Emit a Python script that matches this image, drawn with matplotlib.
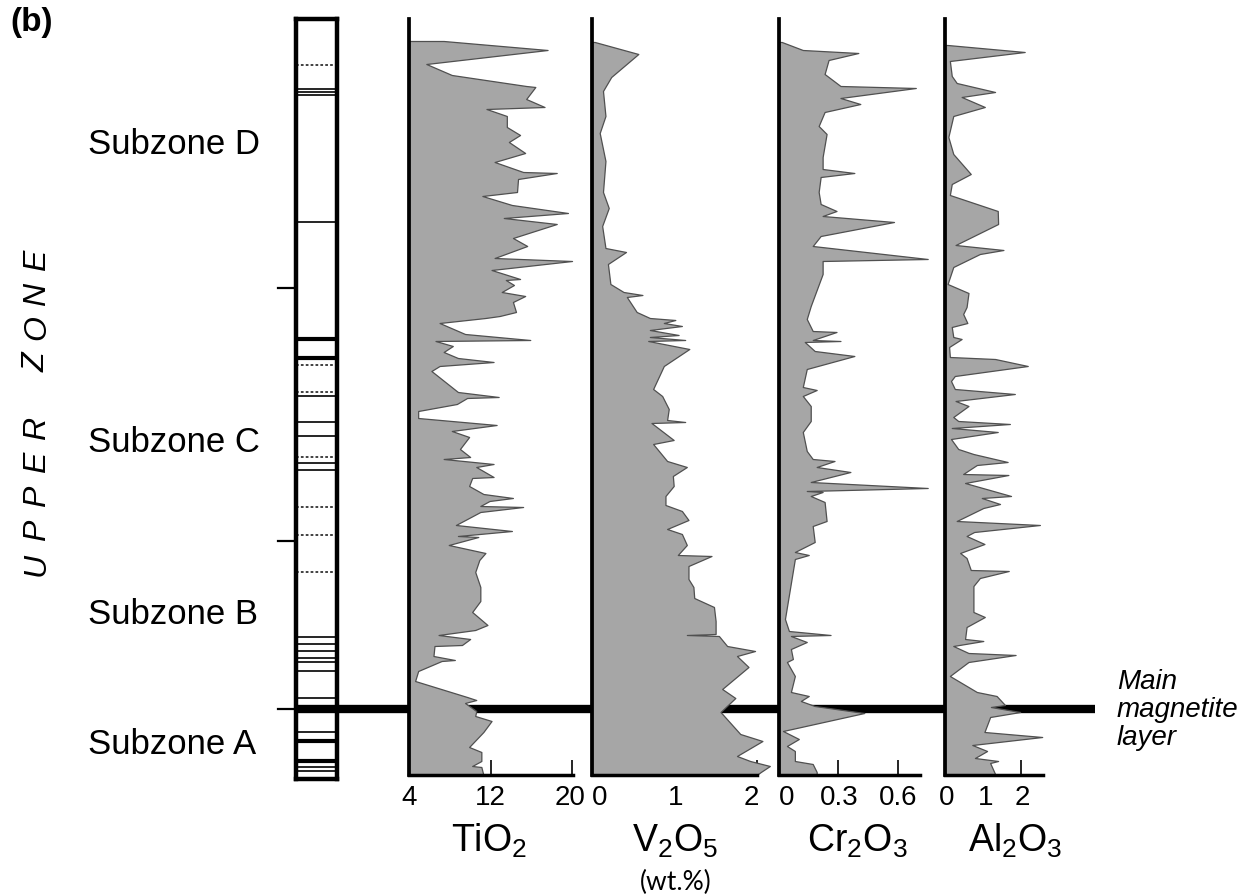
import matplotlib
matplotlib.use("Agg")
import matplotlib.pyplot as plt
import matplotlib.transforms as mtransforms
from matplotlib.lines import Line2D

plt.rcParams['font.family'] = ['Liberation Sans', 'DejaVu Sans']
plt.rcParams['mathtext.fontset'] = 'custom'
plt.rcParams['mathtext.rm'] = 'Liberation Sans'
plt.rcParams['mathtext.it'] = 'Liberation Sans:italic'

# ---------------- data (stratigraphic height in relative units, base = 0) ----------------
tio2_h = [73.4, 72.5, 71.1, 70.0, 68.9, 68.8, 67.6, 66.8, 66.6, 65.9, 64.8, 64.0, 63.3, 62.2,
          61.3, 60.3, 60.2, 59.6, 58.3, 57.9, 57.0, 56.2, 55.7, 55.1, 53.7, 52.9, 51.7, 51.4,
          50.5, 49.6, 49.5, 49.0, 48.3, 47.9, 47.3, 46.3, 45.9, 45.7, 45.2, 44.1, 43.5, 43.4,
          42.9, 42.3, 41.7, 41.3, 40.9, 40.4, 38.3, 37.8, 37.7, 37.1, 36.4, 35.7, 35.0, 34.4,
          33.8, 32.6, 31.8, 31.6, 31.1, 30.8, 29.8, 29.7, 28.9, 28.1, 27.7, 27.4, 26.9, 26.8,
          26.3, 25.0, 24.4, 23.9, 23.8, 23.0, 22.2, 21.5, 20.3, 18.8, 17.4, 16.3, 15.0, 14.5,
          14.0, 13.6, 13.0, 12.9, 11.9, 11.5, 11.4, 10.4, 9.4, 7.8, 7.5, 7.2, 6.4, 5.9, 5.4,
          4.3, 2.8, 2.3, 1.4, 0.9, 0.8, 0.0]
tio2_v = [7.4, 17.6, 5.7, 8.2, 15.5, 16.4, 15.5, 17.3, 11.6, 13.6, 13.6, 14.9, 13.8, 15.4,
          12.4, 15.2, 18.5, 14.7, 14.6, 11.2, 14.1, 19.6, 13.3, 18.5, 14.2, 15.6, 12.4, 20.0,
          12.1, 14.9, 13.5, 14.3, 13.1, 15.4, 14.2, 14.5, 12.9, 11.5, 7.0, 9.5, 15.9, 6.6,
          8.3, 7.4, 8.8, 12.3, 7.0, 6.2, 8.8, 12.8, 9.7, 8.7, 4.9, 4.9, 12.6, 8.2,
          9.9, 9.0, 10.0, 7.4, 12.3, 10.6, 12.3, 10.2, 9.9, 11.3, 14.2, 11.9, 11.0, 15.2,
          11.0, 8.6, 14.1, 8.8, 10.8, 7.9, 11.5, 10.9, 10.5, 11.0, 11.0, 10.2, 11.7, 10.5,
          6.9, 10.0, 9.2, 6.5, 6.4, 8.5, 7.2, 4.9, 4.6, 9.7, 10.6, 9.5, 10.6, 10.5, 12.1,
          11.3, 9.9, 11.1, 11.1, 10.2, 11.1, 11.3]

v2o5_h = [73.3, 72.1, 69.8, 68.4, 65.9, 64.2, 61.4, 58.3, 56.7, 54.9, 52.7, 52.3, 51.1, 49.1,
          48.3, 48.0, 47.8, 46.3, 45.7, 45.5, 45.2, 44.9, 44.5, 44.0, 43.8, 43.5, 43.4, 42.6,
          40.9, 38.6, 37.9, 36.6, 35.5, 35.3, 35.2, 33.5, 33.1, 31.4, 30.8, 29.9, 28.9, 27.9,
          27.0, 26.4, 25.5, 24.6, 24.1, 23.0, 22.0, 21.9, 20.9, 19.6, 18.8, 17.7, 16.8, 15.4,
          14.1, 14.0, 13.9, 12.9, 12.4, 11.9, 10.8, 8.6, 7.7, 6.3, 4.1, 3.4, 1.9, 1.4, 0.9,
          0.3, 0.0]
v2o5_v = [0.03, 0.56, 0.23, 0.13, 0.16, 0.09, 0.16, 0.13, 0.20, 0.12, 0.16, 0.41, 0.19, 0.22,
          0.38, 0.61, 0.42, 0.54, 0.70, 1.01, 0.87, 1.09, 0.70, 1.05, 0.70, 1.13, 0.68, 1.18,
          0.87, 0.74, 0.85, 0.93, 0.91, 1.13, 0.72, 0.99, 0.74, 0.91, 1.15, 0.98, 0.99, 0.89,
          0.89, 1.09, 1.17, 0.91, 1.09, 1.15, 1.04, 1.45, 1.17, 1.17, 1.23, 1.24, 1.48, 1.50,
          1.50, 1.15, 1.54, 1.64, 1.98, 1.76, 1.90, 1.58, 1.74, 1.56, 1.80, 2.07, 1.76, 1.92, 2.16,
          2.05, 2.0]

cr2o3_h = [73.3, 72.5, 72.2, 71.5, 70.1, 68.9, 68.7, 67.7, 67.1, 66.3, 64.9, 64.1, 61.8, 60.6,
           60.2, 59.8, 58.3, 57.1, 56.4, 55.9, 55.3, 53.9, 52.9, 51.6, 51.4, 50.1, 46.9, 45.6,
           44.4, 44.3, 43.5, 43.4, 43.3, 42.4, 41.9, 40.6, 38.8, 38.5, 37.9, 36.9, 35.4, 34.3,
           32.4, 31.6, 31.4, 30.8, 30.3, 29.3, 28.7, 28.4, 28.3, 27.9, 27.3, 25.4, 24.9, 23.3,
           22.3, 22.0, 21.6, 15.6, 14.4, 14.0, 13.9, 13.3, 12.6, 11.6, 11.3, 9.9, 8.3, 7.9,
           7.4, 6.9, 6.2, 4.4, 3.6, 2.9, 2.4, 1.4, 1.1, 0.3, 0.0]
cr2o3_v = [0.014, 0.12, 0.40, 0.25, 0.23, 0.31, 0.69, 0.31, 0.41, 0.23, 0.20, 0.24, 0.22, 0.22,
           0.38, 0.21, 0.20, 0.21, 0.29, 0.22, 0.58, 0.21, 0.17, 0.75, 0.22, 0.22, 0.16, 0.14,
           0.17, 0.29, 0.17, 0.31, 0.13, 0.18, 0.38, 0.14, 0.12, 0.19, 0.12, 0.16, 0.16, 0.12,
           0.14, 0.17, 0.28, 0.19, 0.36, 0.16, 0.75, 0.14, 0.22, 0.16, 0.23, 0.24, 0.17, 0.18,
           0.08, 0.15, 0.08, 0.03, 0.05, 0.26, 0.06, 0.14, 0.06, 0.07, 0.04, 0.08, 0.06, 0.15,
           0.11, 0.18, 0.43, 0.02, 0.10, 0.04, 0.08, 0.08, 0.17, 0.19, 0.19]

al2o3_h = [73.0, 72.3, 71.4, 69.9, 69.2, 68.3, 67.8, 66.8, 65.9, 63.8, 62.1, 60.1, 59.1, 58.0,
           56.4, 55.1, 53.0, 52.5, 52.1, 50.8, 49.1, 48.2, 46.8, 46.1, 45.2, 44.8, 43.8, 43.6,
           42.8, 41.8, 41.6, 40.9, 39.9, 39.4, 38.6, 38.1, 37.4, 36.9, 35.8, 35.4, 35.1, 34.7,
           34.3, 33.6, 32.6, 32.1, 31.3, 31.0, 30.1, 30.0, 29.2, 27.9, 27.7, 27.1, 26.7, 25.4,
           25.0, 24.3, 23.9, 23.1, 22.2, 21.7, 20.5, 20.4, 19.7, 18.9, 16.3, 15.8, 14.8, 13.6,
           13.4, 12.9, 12.2, 12.0, 11.3, 9.9, 8.3, 7.9, 7.0, 6.8, 6.3, 5.8, 4.3, 3.8, 3.0,
           2.4, 1.7, 1.4, 1.2, 0.1, 0.0]
al2o3_v = [0.06, 2.09, 0.12, 0.17, 0.30, 1.31, 0.43, 1.04, 0.21, 0.08, 0.21, 0.67, 0.17, 0.12,
           1.38, 1.39, 0.27, 1.53, 0.91, 0.21, 0.06, 0.61, 0.56, 0.47, 0.58, 0.17, 0.21, 0.43,
           0.10, 0.12, 1.31, 2.17, 0.25, 0.15, 0.25, 1.83, 0.27, 0.61, 0.21, 0.34, 1.70, 0.17,
           1.38, 0.15, 0.34, 0.74, 1.64, 0.83, 0.47, 1.66, 0.52, 1.73, 0.96, 1.44, 1.00, 0.30,
           2.49, 0.76, 0.56, 1.03, 0.39, 0.56, 0.67, 1.67, 0.91, 0.74, 0.74, 1.04, 0.56, 0.52,
           1.00, 0.21, 0.61, 1.85, 0.61, 0.12, 0.83, 1.35, 1.57, 1.20, 1.97, 1.18, 1.03, 2.55, 0.71,
           1.10, 0.78, 1.39, 1.18, 1.31, 1.31]

# stratigraphic column layers (heights)
col_dotted = [71.0, 41.0, 38.3, 31.8, 26.8, 24.0, 20.3]
col_thin = [68.6, 68.3, 68.0, 55.3, 37.9, 35.3, 33.9, 31.2, 30.5, 13.8, 13.1, 12.4, 11.7,
            11.3, 10.4, 7.7, 4.3, 0.8, 0.4]
col_thick = [43.6, 41.7, 3.4, 1.4]
magnetite_h = 6.6
zone_boundaries = [48.7, 23.4, 6.6]

subzone_names = ["Subzone D", "Subzone C", "Subzone B", "Subzone A"]
subzone_label_h = [63.1, 33.3, 16.1, 3.1]

zone_title = "UPPER ZONE"

panel_names = ["TiO$_2$", "V$_2$O$_5$", "Cr$_2$O$_3$", "Al$_2$O$_3$"]
panel_ticks = [[4, 12, 20], [0, 1, 2], [0, 0.3, 0.6], [0, 1, 2]]
panel_ticklabels = [["4", "12", "20"], ["0", "1", "2"], ["0", "0.3", "0.6"], ["0", "1", "2"]]

# ---------------- layout ----------------
W, H = 1243, 895
fig = plt.figure(figsize=(W / 100, H / 100), dpi=100)
fig.patch.set_facecolor('white')

def px_axes(x0, x1, ytop, ybot):
    return fig.add_axes([x0 / W, 1 - ybot / H, (x1 - x0) / W, (ybot - ytop) / H])

Y_TOP, Y_BOT = 20, 776
H_TOP = 75.6
FILL = '#a6a6a6'
EDGE = '#505050'

# column axes
ax_col = px_axes(296, 337, 20, 780)
ax_col.set_xlim(0, 1)
ax_col.set_ylim(-0.4, H_TOP)
ax_col.set_facecolor('none')
for s in ax_col.spines.values():
    s.set_linewidth(3.2)
    s.set_color('black')
ax_col.set_xticks([])
ax_col.set_yticks([])
for h in col_thin:
    ax_col.axhline(h, color='black', lw=1.2)
for h in col_thick:
    ax_col.axhline(h, color='black', lw=3.0)
for h in col_dotted:
    ax_col.axhline(h, color='#333333', lw=1.3, ls=(0, (1.5, 1.2)))
tr_col_ax = mtransforms.blended_transform_factory(ax_col.transAxes, ax_col.transData)
for h in zone_boundaries:
    ax_col.add_line(Line2D([-0.44, 0], [h, h], transform=tr_col_ax, color='black',
                           lw=1.6, clip_on=False))

tr_fig_col = mtransforms.blended_transform_factory(fig.transFigure, ax_col.transData)
# main magnetite layer line (behind the geochemical fills)
fig.add_artist(Line2D([296 / W, 1095 / W], [magnetite_h, magnetite_h], transform=tr_fig_col,
                      color='black', lw=6.0, solid_capstyle='butt', zorder=-1))

# geochemical panels
panels = [
    (tio2_h, tio2_v, 409.0, 10.19, 4.0, 20.2, 20.1),
    (v2o5_h, v2o5_v, 592.3, 82.2, 0.0, 2.25, 2.0),
    (cr2o3_h, cr2o3_v, 779.0, 198.3, 0.0, 0.77, 0.71),
    (al2o3_h, al2o3_v, 945.3, 38.0, 0.0, 2.62, 2.57),
]
label_px = [489, 675, 857, 1015]
ticklabel_dx = [[0, 0, -2], [7, 1, -5], [8, 1, 0], [1, 2, 1]]
for i, (hh, vv, x0, ppu, xmin, xview, xend) in enumerate(panels):
    x1 = x0 + (xview - xmin) * ppu
    ax = px_axes(x0, x1, Y_TOP, Y_BOT)
    ax.set_facecolor('none')
    ax.set_xlim(xmin, xview)
    ax.set_ylim(0, H_TOP)
    ax.fill_betweenx(hh, xmin, vv, facecolor=FILL, edgecolor=EDGE, linewidth=0.9, zorder=2)
    for side in ['top', 'right']:
        ax.spines[side].set_visible(False)
    ax.spines['left'].set_linewidth(2.7)
    ax.spines['bottom'].set_linewidth(2.5)
    ax.spines['left'].set_zorder(3)
    ax.spines['bottom'].set_zorder(3)
    ax.spines['bottom'].set_bounds(xmin, xend)
    ax.spines['left'].set_capstyle('projecting')
    ax.spines['bottom'].set_capstyle('projecting')
    ax.set_yticks([])
    ax.set_xticks(panel_ticks[i])
    ax.tick_params(axis='x', direction='in', length=11, width=1.2, labelbottom=False)
    tr_x = mtransforms.blended_transform_factory(ax.transData, ax.transAxes)
    for t, lab, dx in zip(panel_ticks[i], panel_ticklabels[i], ticklabel_dx[i]):
        ax.annotate(lab, xy=(t, 0), xycoords=tr_x, xytext=(dx * 0.72, -16),
                    textcoords='offset points', ha='center', va='center', fontsize=20,
                    annotation_clip=False)
    fig.text(label_px[i] / W, 1 - 841 / H, panel_names[i], ha='center', va='center', fontsize=27)

# labels
for name, h in zip(subzone_names, subzone_label_h):
    fig.text(88 / W, h, name, transform=tr_fig_col, ha='left', va='center', fontsize=25)

# spaced vertical title, letter by letter from the bottom upwards
y_px = 564
for ch in zone_title:
    if ch == " ":
        y_px -= 32
        continue
    fig.text(37 / W, 1 - y_px / H, ch, rotation=90, ha='center', va='center',
             fontsize=23, style='italic')
    y_px -= 34

fig.text(10 / W, 1 - 23 / H, "(b)", ha='left', va='center', fontsize=24, fontweight='bold')
fig.text(1117 / W, magnetite_h, "Main\nmagnetite\nlayer", transform=tr_fig_col, ha='left',
         va='center', fontsize=20, style='italic', linespacing=1.12)
fig.text(676 / W, 1 - 882 / H, "(wt.%)", ha='center', va='center', fontsize=19,
         family=['Lato', 'DejaVu Sans'])

fig.savefig("out.png", dpi=100, facecolor='white')
